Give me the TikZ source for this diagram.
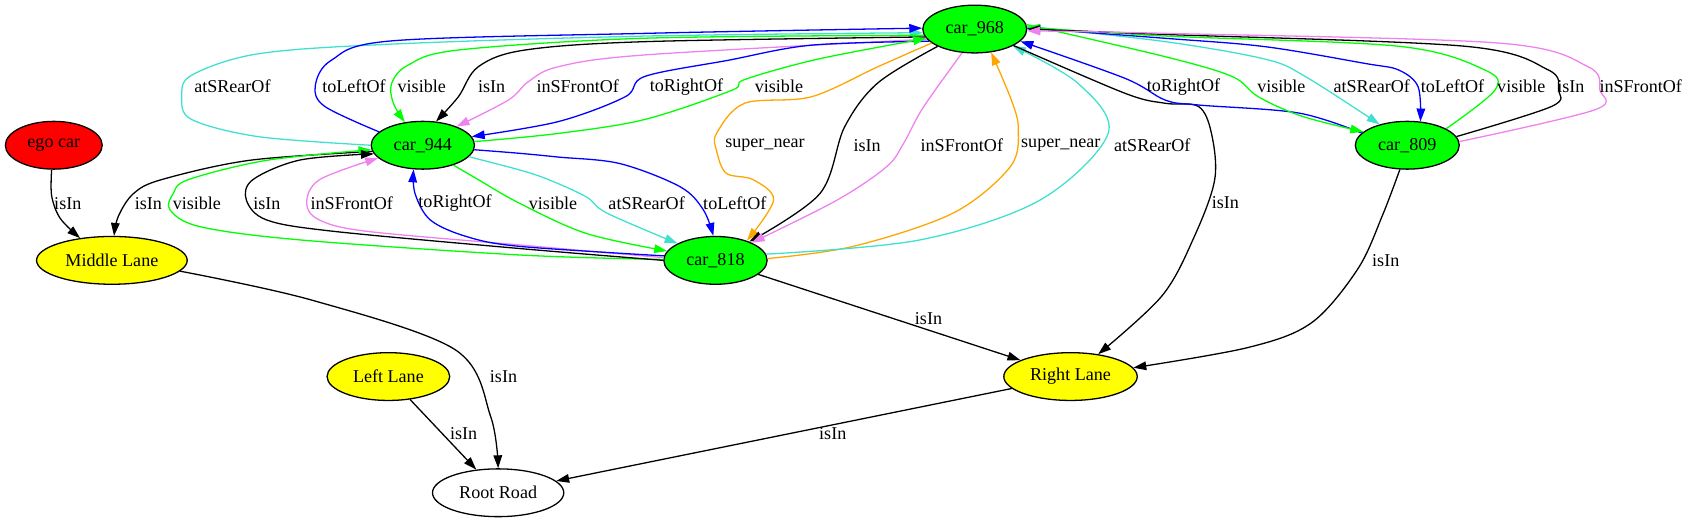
\documentclass[tikz,border=0pt]{standalone}
\usepackage{fontspec}
\setmainfont{Liberation Serif}
\usetikzlibrary{shapes.geometric,arrows.meta}
\definecolor{cgreen}{HTML}{00FF00}
\definecolor{cblue}{HTML}{0000FF}
\definecolor{cviolet}{HTML}{EE82EE}
\definecolor{cturq}{HTML}{40E0D0}
\definecolor{corange}{HTML}{FFA500}
\definecolor{cred}{HTML}{FF0000}
\definecolor{cyellow}{HTML}{FFFF00}
\begin{document}
\begin{tikzpicture}[x=0.5pt,y=-0.5pt,
  every node/.style={font=\fontsize{8.4}{10}\selectfont},
  gnode/.style={ellipse,draw=black,line width=0.6pt,inner sep=0pt,minimum height=22.2pt},
  lbl/.style={inner sep=0pt},
  e/.style={line width=0.6pt,-{Triangle[length=6pt,width=4pt]}},
  sm/.style={smooth,tension=0.55},
]
\useasboundingbox (0,0) rectangle (1568,486);
% nodes
\node[gnode,fill=cred,minimum width=45pt] (ego) at (50,135) {ego car};
\node[gnode,fill=cgreen,minimum width=48pt] (c944) at (393,135) {car\_944};
\node[gnode,fill=cgreen,minimum width=48.3pt] (c968) at (906,27) {car\_968};
\node[gnode,fill=cgreen,minimum width=48.3pt] (c809) at (1308,135) {car\_809};
\node[gnode,fill=cgreen,minimum width=48pt] (c818) at (665,242) {car\_818};
\node[gnode,fill=cyellow,minimum width=70pt] (mid) at (104,242) {Middle Lane};
\node[gnode,fill=cyellow,minimum width=57pt] (left) at (361,350) {Left Lane};
\node[gnode,fill=white,minimum width=61pt] (root) at (463,458) {Root Road};
\node[gnode,fill=cyellow,minimum width=62pt] (right) at (995,350) {Right Lane};

% car_944 <-> car_968
\draw[e,cturq] plot[sm] coordinates {(c944.180) (240,127) (178,111) (169,90) (178,70) (240,50) (364,41) (600,33.5) (c968.184)};
\draw[e,cblue] plot[sm] coordinates {(c944.163) (302,99) (293,80) (308,56) (364,38) (600,31) (c968.179)};
\draw[e,cgreen] plot[sm] coordinates {(c968.187) (600,35.5) (426,46.5) (379.5,60.4) (364,77.5) (365.6,96) (c944.128)};
\draw[e,black] plot[sm] coordinates {(c968.189) (600,38.7) (488,46.5) (444.6,62) (426,90) (c944.61)};
\draw[e,cviolet] plot[sm] coordinates {(c968.192) (600,51) (519,62) (491,76) (472.5,93) (c944.29)};
\draw[e,cblue] plot[sm] coordinates {(c968.195) (754,42) (677,56) (599.5,71) (581,90) (519,113) (c944.10)};
\draw[e,cgreen] plot[sm] coordinates {(c944.4) (519,124) (599.5,111) (680,84) (692,74) (760,55) (c968.191)};

% ego / middle
\draw[e,black] plot[sm] coordinates {(ego.265) (48,182) (56,203) (mid.145)};
\draw[e,black] plot[sm] coordinates {(c944.187) (232,149) (150,167) (124,180) (110,201) (mid.85)};

% car_818 -> car_944
\draw[e,cgreen] plot[sm] coordinates {(c818.179) (483,237) (279,223) (186,210.7) (158,195) (161,180) (175,167) (248,149) (c944.185)};
\draw[e,black] plot[sm] coordinates {(c818.180) (483,231) (310,215) (248,204.5) (229,186) (235,167) (279,148.7) (c944.190)};
\draw[e,cviolet] plot[sm] coordinates {(c818.177) (483,227.7) (341,215) (297,204.5) (285,189) (297,167) (c944.196)};
\draw[e,cblue] plot[sm] coordinates {(c818.175) (483,229) (434,220) (400,204.5) (385.7,179.7) (c944.249)};

% car_944 -> car_818
\draw[e,cgreen] plot[sm] coordinates {(c944.327) (444.6,167) (483,189) (545,217) (c818.169)};
\draw[e,cturq] plot[sm] coordinates {(c944.346) (483,158) (510,167) (545,183) (564,198) (c818.156)};
\draw[e,cblue] plot[sm] coordinates {(c944.355) (483,142.5) (519,146) (576,152) (632,173.5) (653.7,195) (c818.95)};

% car_968 <-> car_818
\draw[e,corange] plot[sm] coordinates {(c968.198) (816,62) (754,90) (692,96) (666,124) (666,140) (675,161) (700,167) (719,186) (c818.32)};
\draw[e,black] plot[sm] coordinates {(c968.205) (816,77) (785,118) (762,180) (c818.29)};
\draw[e,cviolet] plot[sm] coordinates {(c968.242) (858,100) (840,133) (824,155) (778,186) (c818.26)};
\draw[e,corange] plot[sm] coordinates {(c818.2) (793,229) (886,198) (939,155) (946.5,120) (940,93) (c968.305)};
\draw[e,cturq] plot[sm] coordinates {(c818.7) (855,223) (966.6,186) (1030,124) (1002,77.5) (c968.336)};

% lanes
\draw[e,black] plot[sm] coordinates {(c968.337) (1045.6,86.7) (1083,96) (1114,99) (1126,124) (1129,167) (1110,220) (1080,275) (right.39)};
\draw[e,black] (c818) -- (right);
\draw[e,black] plot[sm] coordinates {(c809.253) (1285,200) (1262,250) (1219,300) (1160,323) (right.8)};
\draw[e,black] (right) -- (root);
\draw[e,black] plot[sm] coordinates {(mid.351) (290,279) (423,325) (456,387) (root.90)};
\draw[e,black] (left) -- (root);

% car_968 <-> car_809
\draw[e,cblue] plot[sm] coordinates {(c809.165) (1206.8,105) (1113.9,97.6) (1083,93) (1045.6,72.8) (c968.345)};
\draw[e,cgreen] plot[sm] coordinates {(c968.5) (1083,52.7) (1145,71) (1169.6,90) (1210,108) (c809.163)};
\draw[e,cturq] plot[sm] coordinates {(c968.3) (1083,38.7) (1176,55) (1213,71) (c809.143)};
\draw[e,cblue] plot[sm] coordinates {(c968.1) (1083,35.6) (1176,43.4) (1269,59) (1299.8,65) (1318,80.5) (c809.61)};
\draw[e,cgreen] plot[sm] coordinates {(c809.23) (1389.6,83.6) (1380,65) (1300,43) (1083,33.5) (c968.2)};
\draw[e,black] plot[sm] coordinates {(c809.10) (1442,99) (1448.5,83.6) (1439,65) (1361.7,43) (1083,32) (c968.0)};
\draw[e,cviolet] plot[sm] coordinates {(c809.4) (1482.5,102) (1487,83.6) (1476,62) (1392.7,40) (1083,31) (c968.358)};

% labels
\node[lbl] (l1) at (216,80.5) {atSRearOf};
\node[lbl] (l2) at (329,80.5) {toLeftOf};
\node[lbl] (l3) at (392,80.5) {visible};
\node[lbl] (l4) at (457,80.5) {isIn};
\node[lbl] (l5) at (537,80.5) {inSFrontOf};
\node[lbl] (l6) at (638,80.5) {toRightOf};
\node[lbl] (l7) at (724,80.5) {visible};
\node[lbl] (l8) at (1100,80.5) {toRightOf};
\node[lbl] (l9) at (1191,80.5) {visible};
\node[lbl] (l10) at (1275,80.5) {atSRearOf};
\node[lbl] (l11) at (1350,80.5) {toLeftOf};
\node[lbl] (l12) at (1414,80.5) {visible};
\node[lbl] (l13) at (1460,80.5) {isIn};
\node[lbl] (l14) at (1525,80.5) {inSFrontOf};
\node[lbl] (l15) at (711,135) {super\_near};
\node[lbl] (l16) at (806,135) {isIn};
\node[lbl] (l17) at (894,135) {inSFrontOf};
\node[lbl] (l18) at (986,135) {super\_near};
\node[lbl] (l19) at (1071,135) {atSRearOf};
\node[lbl] (l20) at (63,189) {isIn};
\node[lbl] (l21) at (138,189) {isIn};
\node[lbl] (l22) at (183,189) {visible};
\node[lbl] (l23) at (248,189) {isIn};
\node[lbl] (l24) at (327,189) {inSFrontOf};
\node[lbl] (l25) at (423,189) {toRightOf};
\node[lbl] (l26) at (514,189) {visible};
\node[lbl] (l27) at (601,189) {atSRearOf};
\node[lbl] (l28) at (683,189) {toLeftOf};
\node[lbl] (l29) at (1139,188) {isIn};
\node[lbl] (l30) at (1288,242) {isIn};
\node[lbl] (l31) at (863,296) {isIn};
\node[lbl] (l32) at (468,350) {isIn};
\node[lbl] (l33) at (431,403) {isIn};
\node[lbl] (l34) at (774,403) {isIn};
\end{tikzpicture}
\end{document}
